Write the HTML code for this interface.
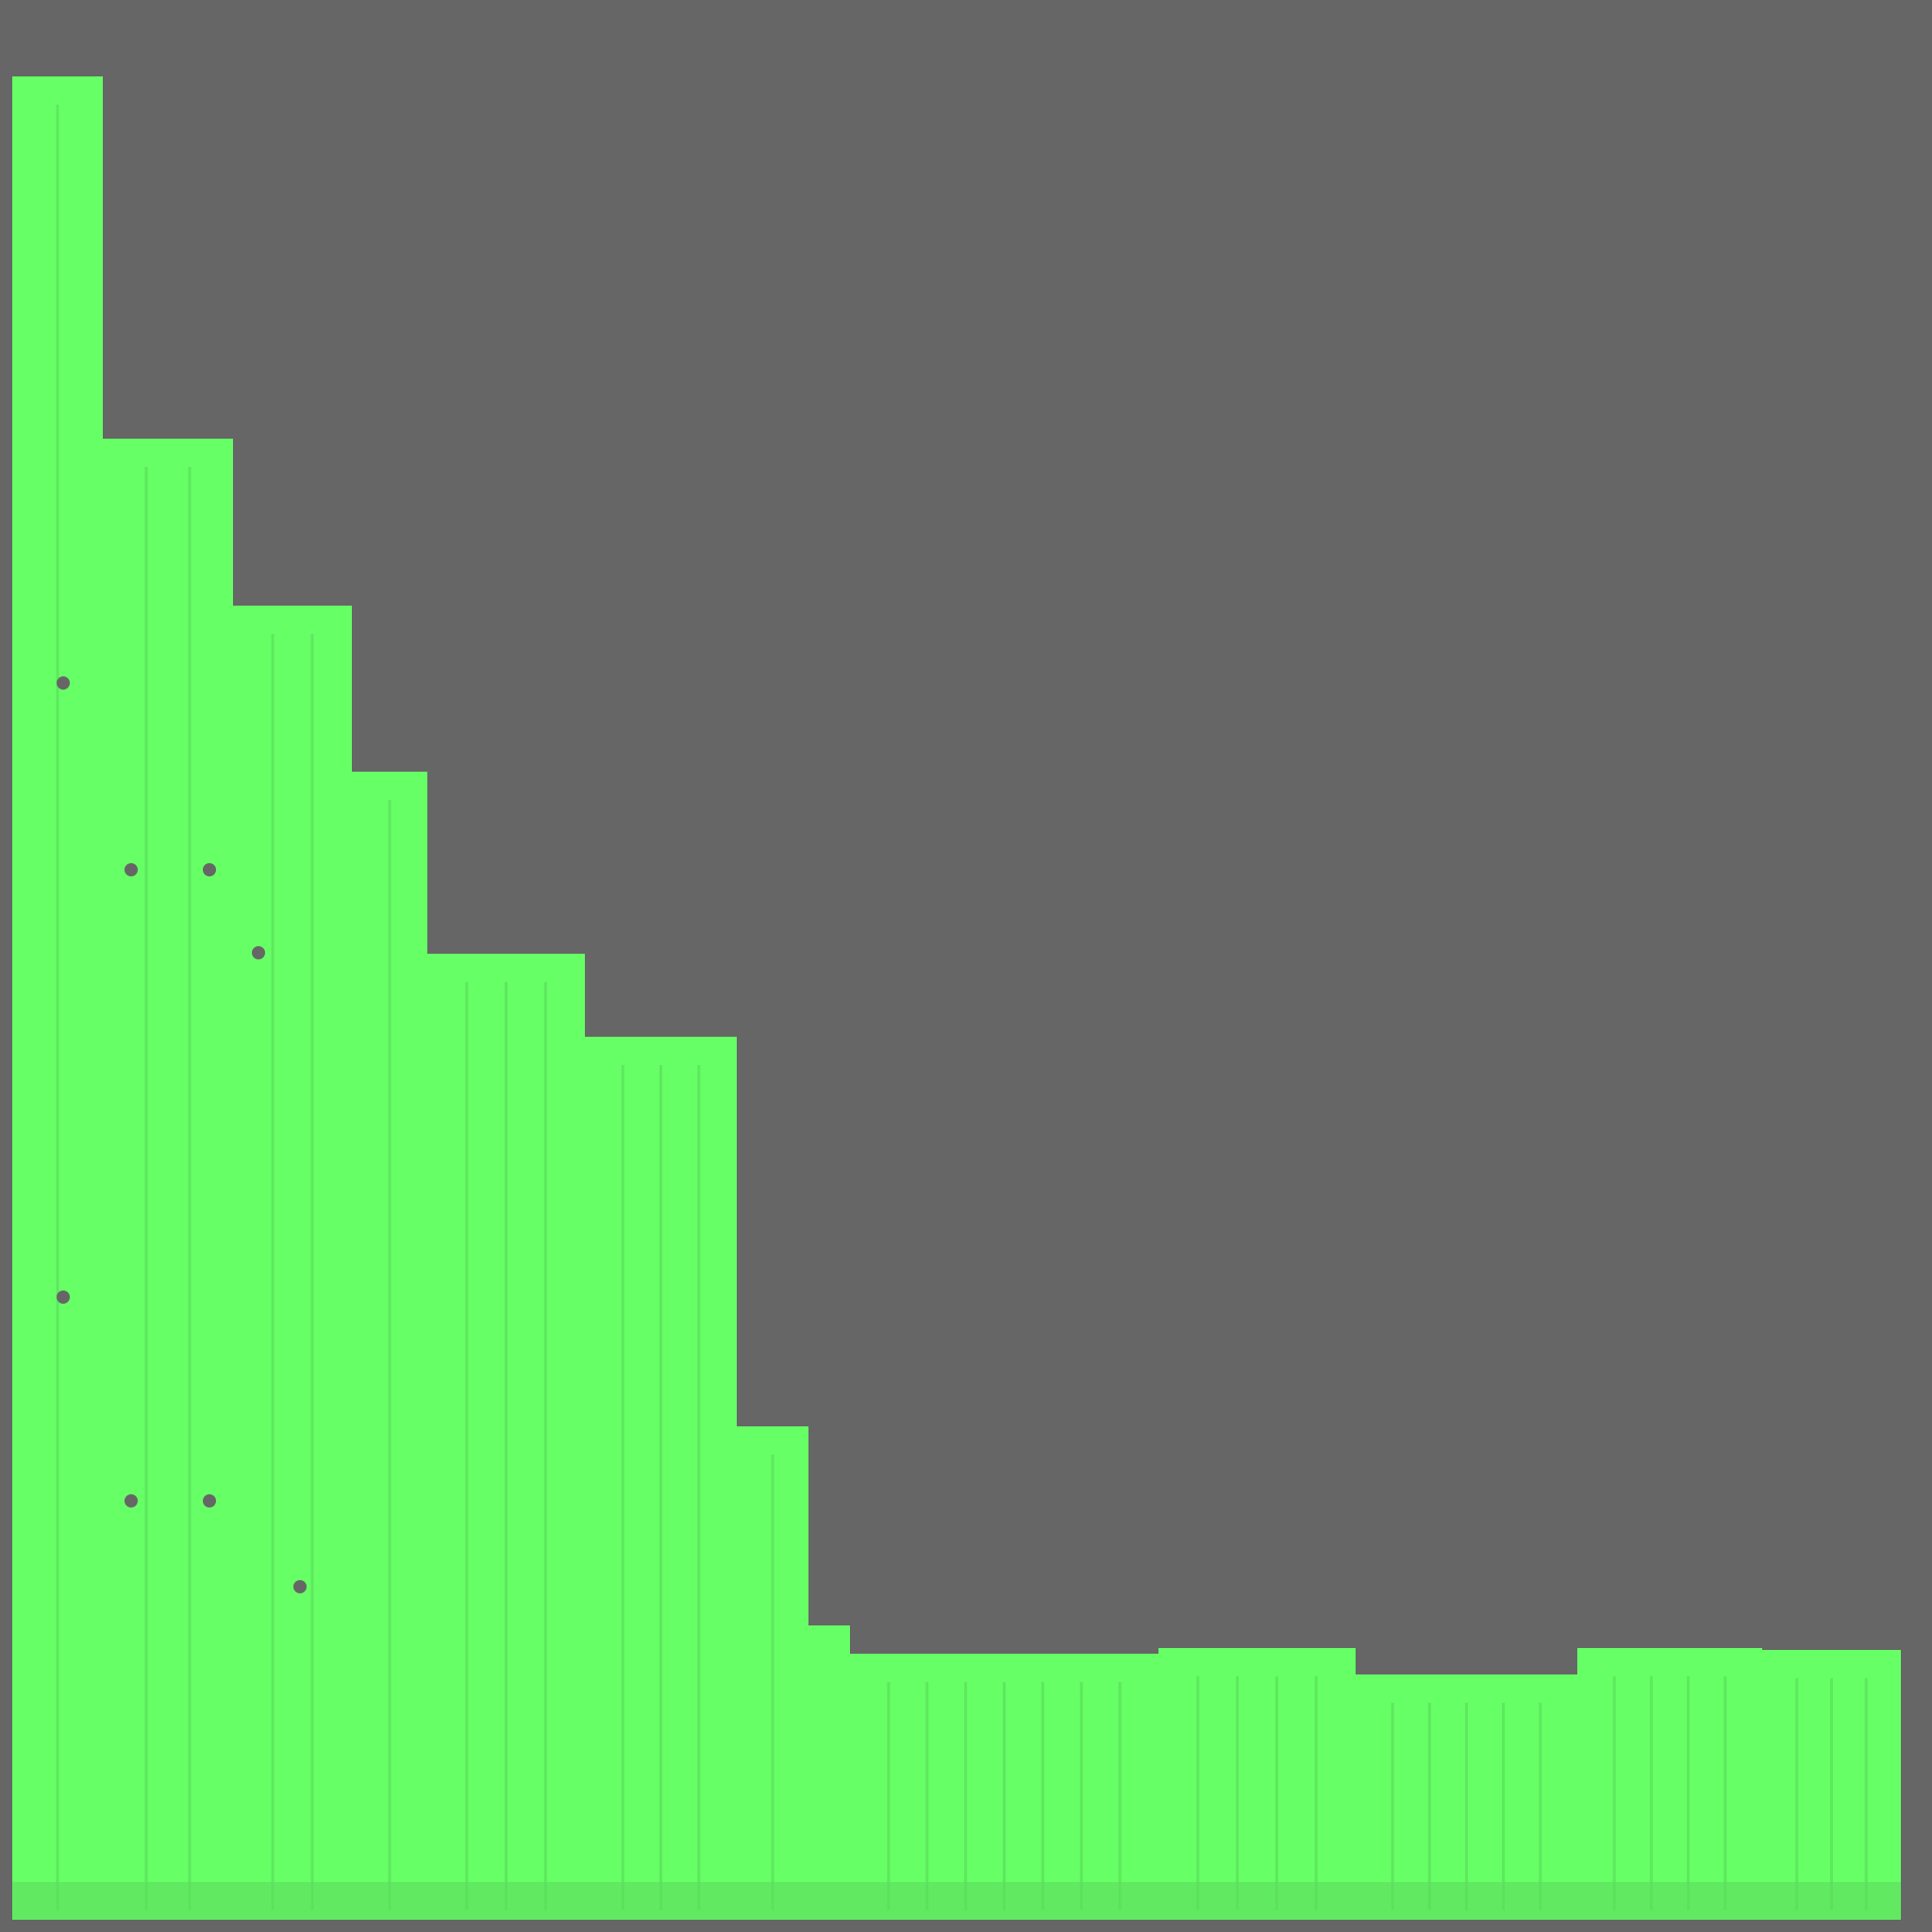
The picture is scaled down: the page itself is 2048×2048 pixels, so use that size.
<!DOCTYPE html>
<html><head><meta charset="utf-8">
<style>
html,body{margin:0;padding:0;background:#666666;}
svg{display:block;}
</style></head>
<body>
<svg id="chart" width="2048" height="2048" viewBox="0 0 2048 2048" xmlns="http://www.w3.org/2000/svg">
<rect x="0" y="0" width="2048" height="2048" fill="#666666"/>
<g id="bars"></g>
<g id="dots"></g>
</svg>
<script>
const binEdges = [13, 109, 247, 373, 453, 620, 781, 857, 901, 1228, 1437, 1672, 1868, 2015];
const counts = [1954, 1570, 1393, 1217, 1024, 936, 523, 312, 282, 288, 260, 288, 286];
const markerX = [67, 139, 222, 274, 318, 67, 139, 222];
const markerY = [1311, 1113, 1113, 1025, 353, 660, 444, 444];

const baseY = 2035;
function xPos(v){ return v * 1; }
function yPos(v){ return baseY - v * 1; }

const svgNS = "http://www.w3.org/2000/svg";
const bars = document.getElementById('bars');
for (let i = 0; i < counts.length; i++) {
  const x0 = xPos(binEdges[i]), x1 = xPos(binEdges[i+1]);
  const y = yPos(counts[i]);
  const r = document.createElementNS(svgNS, 'rect');
  r.setAttribute('x', x0);
  r.setAttribute('y', y);
  r.setAttribute('width', x1 - x0);
  r.setAttribute('height', baseY - y);
  r.setAttribute('fill', '#66ff66');
  
  
  bars.appendChild(r);
  const n = Math.max(1, Math.round((x1 - x0) / 40));
  for (let k = 1; k < n; k++) {
    const lx = x0 + (x1 - x0) * k / n;
    const l = document.createElementNS(svgNS, 'line');
    l.setAttribute('x1', lx); l.setAttribute('x2', lx);
    l.setAttribute('y1', y + 30); l.setAttribute('y2', baseY - 10);
    l.setAttribute('stroke', '#5ee85e'); l.setAttribute('stroke-width', '3');
    
    
    bars.appendChild(l);
  }
}
const shade = document.createElementNS(svgNS, 'rect');
shade.setAttribute('x', xPos(binEdges[0]));
shade.setAttribute('y', baseY - 40);
shade.setAttribute('width', xPos(binEdges[binEdges.length-1]) - xPos(binEdges[0]));
shade.setAttribute('height', 40);
shade.setAttribute('fill', '#5edc5e');
shade.setAttribute('opacity', '0.6');


bars.appendChild(shade);

const dots = document.getElementById('dots');
for (let i = 0; i < markerX.length; i++) {
  const c = document.createElementNS(svgNS, 'circle');
  c.setAttribute('cx', markerX[i]);
  c.setAttribute('cy', baseY - markerY[i]);
  c.setAttribute('r', 7);
  c.setAttribute('fill', '#666666');
  
  
  dots.appendChild(c);
}
</script>
</body></html>
